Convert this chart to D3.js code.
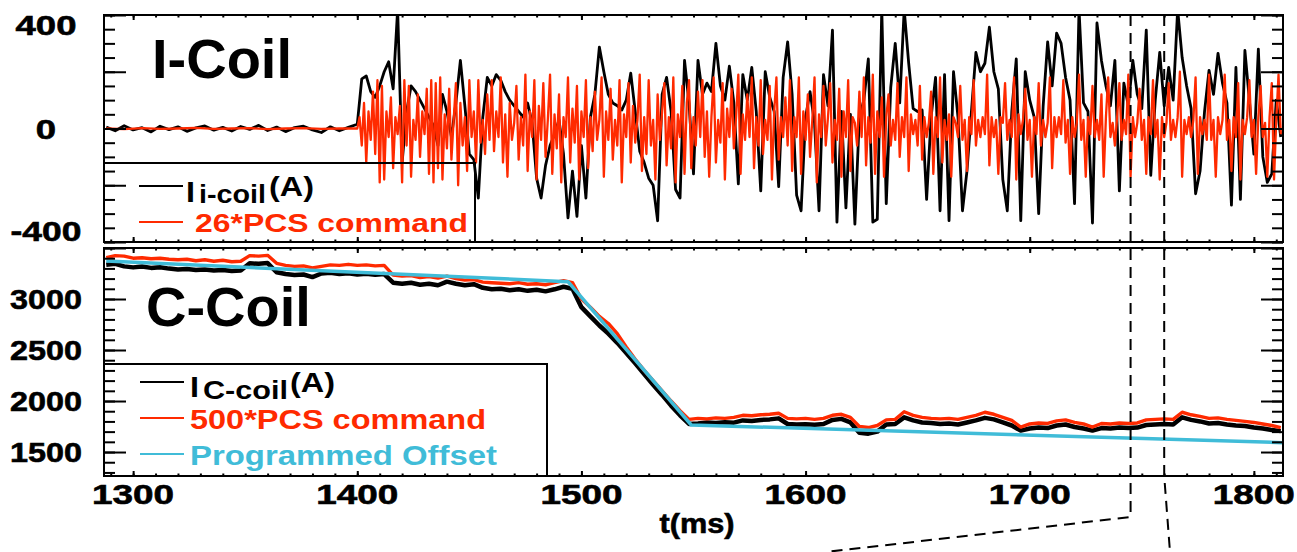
<!DOCTYPE html>
<html>
<head>
<meta charset="utf-8">
<script src="https://cdn.jsdelivr.net/npm/d3@7"></script>
<style>
  body { margin: 0; background: #fff; }
  svg { display: block; }
  text { font-family: "Liberation Sans", Arial, sans-serif; font-weight: bold; }
</style>
</head>
<body>
<svg id="chart" width="1297" height="552"></svg>
<script>
// ---- time axis (ms) ----
const tTicks = [1300, 1400, 1500, 1600, 1700, 1800];
const markerTimes = [1745, 1760];

// ---- I-coil panel (A) ----
const iTicks = [400, 0, -400];
const iCoilPreStart = 1288, iCoilPreStep = 4;
const iCoilPre = [5, -8, 10, -5, 3, -12, 8, -4, 6, -10, 2, 9, -6, 4, -9, 7, -3, 11, -7, 5, -11, 3, 8, -5, -14, 6, -8, 4];
const iCoilStart = 1400, iCoilStep = 2;
const iCoil = [
  15, 175, 185, 130, 110, 150, 200, 235, 140, 420,
  -120, 60, 150, 130, 100, 70, 40, 10, -60, 120,
  60, -30, 90, 240, 80, -90, -110, -245, 40, 180,
  150, 190, 170, 130, 100, 80, 60, 40, 90, 20,
  -175, -245, -130, -60, -20, 30, -90, -315, -150, -310,
  -60, -245, 40, 120, 287, 200, 120, 90, 80, 65,
  100, 195, 60, -80, -120, -175, -200, -325, 120, 180,
  60, -215, -245, 240, 90, -160, 240, 120, 160, 130,
  300, 150, 100, 220, 90, -195, 190, 100, 215, 60,
  -220, 200, 110, 60, -205, 180, 305, 120, -235, -290,
  40, 130, 20, -290, 190, 80, 347, -330, 60, -280,
  50, -337, 40, 100, 245, -330, -320, 420, -265, 145,
  300, 90, 420, 230, 70, 60, 65, -250, 40, 180,
  -290, 190, -325, 200, 40, -290, -150, 60, 268, 200,
  230, 357, 200, 140, -180, -290, 60, 245, -325, 200,
  100, 40, -300, 80, 305, 150, 336, 300, 180, 100,
  -265, 420, 90, 60, -333, 372, 240, 150, 80, 240,
  -220, 160, 80, 240, 120, 70, 347, -165, 100, 268,
  80, 215, 100, 420, 250, 150, 70, -230, -150, 60,
  205, 120, 265, 160, 90, -270, 215, -250, 275, 100,
  -90, 280, -100, -190, -160, 100, -30
];
// 26*PCS command
const iCmdPreStart = 1288, iCmdPreStep = 8;
const iCmdPre = [0, -2, 1, -1, 0, 2, -1, 0, 1, -2, 0, 1, -1, 0];
const iCmdStart = 1400, iCmdStep = 1;
const iCmd = [
  0, 40, -60, 90, -120, 60, -40, 130, -90, 170, -190, 150, -180, 60, -30, 110, -140, 40, -20, 80,
  -190, 170, -60, 150, -170, 30, -40, 120, -100, 60, -20, 140, -160, 170, -190, 160, -140, 180, -180, 50,
  -70, 140, -110, 30, 160, -200, 90, -60, 40, -150, 170, -30, 60, -120, 170, -50, 30, -90, 120, -40,
  170, -80, 60, -30, 180, -120, 50, -170, 90, -40, 20, 150, -110, 40, -60, 190, -150, 60, -30, 170,
  -180, 80, -40, 160, -100, 30, 190, -160, 50, -70, 120, -190, 40, -30, 180, -120, 70, -50, 150, -180,
  60, -30, 170, -140, 40, -80, 130, -40, 30, 180, -170, 60, -40, 140, -110, 30, -60, 170, -190, 50,
  -30, 160, -120, 80, -50, 30, 190, -150, 40, -90, 170, -60, 30, -180, 120, -40, 60, 160, -130, 40,
  -70, 180, -190, 50, -30, 150, -160, 90, 170, -140, 40, -60, 130, -30, 170, -100, 60, -170, 40, 180,
  -120, 30, -50, 160, -180, 70, -30, 140, -70, 40, 190, -160, 50, -40, 120, -30, 180, -140, 40, -60,
  170, -90, 30, -40, 150, -180, 60, 180, -110, 40, -30, 110, -60, 170, -150, 40, -30, 180, -160, 60,
  -40, 120, -100, 30, 180, -190, 50, -30, 150, -60, 40, 160, -120, 30, -40, 140, -170, 60, -30, 170,
  -150, 40, 20, -60, 130, -30, 180, -130, 40, -50, 190, -160, 60, -30, 110, -170, 40, 120, -60, 30,
  -40, 160, -100, 40, -30, 180, -150, 50, -20, 30, -60, 150, -110, 40, -30, 20, 130, -160, 40, -30,
  180, -120, 30, -40, 50, -170, 40, 20, -30, 150, -40, 30, -150, 40, -20, 170, -60, 30, -30, 40,
  -20, 190, -130, 40, -30, 30, -160, 40, 20, 160, -40, 30, -30, 180, -180, 50, -20, 30, 140, -40,
  30, -170, 40, -20, 160, -60, 30, -30, 20, 180, -140, 40, -30, 40, -20, 170, -50, 30, -160, 40,
  -30, 20, 190, -40, 30, -170, 40, -20, 150, -30, 30, -40, 120, -170, 40, 180, -30, 20, -60, 40,
  160, -40, 30, -20, 190, -170, 40, -30, 20, 140, -40, 30, -160, 40, -20, 170, -30, 30, -180, 40,
  -30, 20, 160, -40, 30, -30, 40, 200, -170, 30, -20, 40, -30, 30, 180, -160, 40, -20, 30, -40,
  190, -40, 30, -170, 40, -20, 30, 190, -40, 30, -150, 40, -30, 160, -180, 30, -20, 40, 170, -30,
  30, -160, 40, 150, -30, 20, -170, 40, 160, -180, 30, 190, -20
];

// ---- C-coil panel (A) ----
const cTicks = [3000, 2500, 2000, 1500];
const cStart = 1288, cStep = 4;
const cCoil = [
  3335, 3345, 3320, 3310, 3318, 3305, 3312, 3298, 3290, 3295,
  3285, 3290, 3280, 3285, 3275, 3280, 3350, 3345, 3352, 3262,
  3245, 3235, 3240, 3215, 3250, 3258, 3245, 3252, 3240, 3248,
  3238, 3245, 3160, 3150, 3160, 3140, 3150, 3135, 3170, 3150,
  3135, 3145, 3110, 3095, 3100, 3085, 3095, 3080, 3090, 3075,
  3095, 3120, 3100, 2920, 2830, 2740, 2660, 2570, 2470, 2370,
  2265, 2160, 2060, 1955, 1860, 1775, 1780, 1790, 1785, 1792,
  1788, 1810, 1805, 1815, 1820, 1830, 1775, 1770, 1772, 1768,
  1775, 1815, 1825, 1790, 1690, 1680, 1700, 1770, 1775, 1840,
  1810, 1790, 1785, 1775, 1780, 1770, 1790, 1810, 1835, 1820,
  1790, 1760, 1710, 1730, 1740, 1735, 1760, 1770, 1745, 1730,
  1710, 1735, 1730, 1740, 1735, 1740, 1765, 1770, 1775, 1770,
  1840, 1815, 1800, 1780, 1785, 1770, 1760, 1755, 1740, 1730,
  1715, 1705
];
// 500*PCS command
const cCmd = [
  3405, 3425, 3420, 3400, 3405, 3395, 3400, 3390, 3385, 3390,
  3375, 3385, 3370, 3380, 3365, 3370, 3425, 3420, 3428, 3350,
  3330, 3320, 3325, 3305, 3320, 3335, 3330, 3340, 3330, 3335,
  3325, 3330, 3235, 3225, 3230, 3210, 3220, 3205, 3225, 3200,
  3185, 3190, 3165, 3160, 3155, 3150, 3160, 3145, 3150, 3140,
  3160, 3180, 3160, 3000, 2920, 2830, 2760, 2660, 2530, 2410,
  2300, 2200, 2100, 2000, 1905, 1820, 1830, 1825, 1835, 1830,
  1840, 1860, 1855, 1865, 1870, 1880, 1830, 1825, 1830, 1820,
  1830, 1860, 1870, 1840, 1750, 1740, 1760, 1815, 1820, 1895,
  1860, 1840, 1830, 1825, 1830, 1820, 1840, 1860, 1890, 1870,
  1840, 1810, 1745, 1775, 1785, 1780, 1805, 1815, 1790, 1775,
  1745, 1780, 1775, 1785, 1780, 1785, 1815, 1820, 1825, 1820,
  1890, 1865, 1850, 1830, 1835, 1820, 1810, 1800, 1790, 1775,
  1760, 1740
];
// Programmed offset (breakpoints)
const offsetT = [1288, 1494, 1549, 1813];
const offsetV = [3372, 3170, 1765, 1592];

// ---- layout ----
const svg = d3.select("#chart");
const left = 104, right = 1283;
const topPanel = { top: 15, bottom: 242 };
const botPanel = { top: 248, bottom: 476 };
const red = "#ff2a00", cyan = "#40bcd8";

const x = d3.scaleLinear().domain([1287, 1813]).range([left, right]);
const yI = d3.scaleLinear().domain([-400, 400]).range([topPanel.bottom, topPanel.top]);
const yC = d3.scaleLinear().domain([1265, 3500]).range([botPanel.bottom, botPanel.top]);

const series = (start, step, vals) => vals.map((v, i) => [start + i * step, v]);

const defs = svg.append("defs");
[["clipI", topPanel], ["clipC", botPanel]].forEach(([id, p]) => {
  defs.append("clipPath").attr("id", id)
    .append("rect").attr("x", left).attr("y", p.top)
    .attr("width", right - left).attr("height", p.bottom - p.top);
});

// data lines
const drawLine = (data, y, clip, color, width) => {
  svg.append("path")
    .datum(data)
    .attr("clip-path", `url(#${clip})`)
    .attr("fill", "none")
    .attr("stroke", color)
    .attr("stroke-width", width)
    .attr("stroke-linejoin", "round")
    .attr("d", d3.line().x((d) => x(d[0])).y((d) => y(d[1])));
};

drawLine(series(iCoilPreStart, iCoilPreStep, iCoilPre).concat(series(iCoilStart, iCoilStep, iCoil)), yI, "clipI", "#000", 2.8);
drawLine(series(iCmdPreStart, iCmdPreStep, iCmdPre).concat(series(iCmdStart, iCmdStep, iCmd)), yI, "clipI", red, 2.3);

drawLine(series(cStart, cStep, cCoil), yC, "clipC", "#000", 4.5);
drawLine(series(cStart, cStep, cCmd), yC, "clipC", red, 3.4);
drawLine(offsetT.map((t, i) => [t, offsetV[i]]), yC, "clipC", cyan, 3.5);

// ticks (inward, mirrored on all sides)
const tickGroup = (axisFn, scale, values, size, tx, ty) => {
  svg.append("g")
    .attr("transform", `translate(${tx},${ty})`)
    .call(axisFn(scale).tickValues(values).tickSize(size).tickFormat(""))
    .call((g) => g.select(".domain").remove())
    .call((g) => g.selectAll("line").attr("stroke", "#000").attr("stroke-width", 2));
};

const tMinor = d3.range(1290, 1813, 10);
const tMajor = tTicks;

[[topPanel, yI, d3.range(-400, 401, 50), d3.range(-400, 401, 200)],
 [botPanel, yC, d3.range(1300, 3501, 100), d3.range(1500, 3501, 500)]].forEach(([p, y, minor, major]) => {
  tickGroup(d3.axisBottom, x, tMinor, -2.5, 0, p.bottom);
  tickGroup(d3.axisBottom, x, tMajor, -5, 0, p.bottom);
  tickGroup(d3.axisTop, x, tMinor, -2.5, 0, p.top);
  tickGroup(d3.axisTop, x, tMajor, -5, 0, p.top);
  tickGroup(d3.axisLeft, y, minor, -11, left, 0);
  tickGroup(d3.axisLeft, y, major, -22, left, 0);
  tickGroup(d3.axisRight, y, minor, -11, right, 0);
  tickGroup(d3.axisRight, y, major, -22, right, 0);
  svg.append("rect")
    .attr("x", left).attr("y", p.top)
    .attr("width", right - left).attr("height", p.bottom - p.top)
    .attr("fill", "none").attr("stroke", "#000").attr("stroke-width", 2);
});

// tick labels (IDL style, wide heavy digits)
const label = (txt, cx, baseline, size, len) => {
  svg.append("text")
    .attr("x", cx - len / 2).attr("y", baseline)
    .attr("font-size", size)
    .attr("stroke", "#000").attr("stroke-width", 0.6)
    .attr("textLength", len).attr("lengthAdjust", "spacingAndGlyphs")
    .text(txt);
};
const labelLen = (s, per) => s.replace("-", "").length * per + (s.startsWith("-") ? 10 : 0);

iTicks.forEach((v) => {
  const yy = Math.min(Math.max(yI(v), topPanel.top + 10), topPanel.bottom - 11);
  label(String(v), 46, yy + 10, 28, labelLen(String(v), 20.3));
});
cTicks.forEach((v) => label(String(v), 46, yC(v) + 10, 28, labelLen(String(v), 18)));
tTicks.forEach((t) => label(String(t), x(t), 504, 28, labelLen(String(t), 20.5)));
label("t(ms)", 697, 533, 28, 75);

// panel titles
svg.append("text").attr("x", 152).attr("y", 78).attr("font-size", 56).text("I-Coil");
svg.append("text").attr("x", 146).attr("y", 326).attr("font-size", 56).text("C-Coil");

// legends
const legendBox = (x1, y1, x2, y2) => {
  svg.append("path")
    .attr("d", `M${x1},${y2}V${y1}H${x2}V${y2}`)
    .attr("fill", "none").attr("stroke", "#000").attr("stroke-width", 2);
};
const legendLine = (x1, x2, y, color) => {
  svg.append("line").attr("x1", x1).attr("x2", x2).attr("y1", y).attr("y2", y)
    .attr("stroke", color).attr("stroke-width", 2);
};
const richLabel = (parts, color) => {
  parts.forEach(([txt, px, base, size, len]) => {
    svg.append("text").attr("x", px).attr("y", base).attr("font-size", size)
      .attr("fill", color)
      .attr("textLength", len).attr("lengthAdjust", "spacingAndGlyphs")
      .text(txt);
  });
};

legendBox(left, 163, 475, topPanel.bottom);
legendLine(139, 183, 186, "#000");
richLabel([["I", 186, 202, 30, 9], ["i-coil", 199, 203, 25, 67], ["(A)", 269, 196, 27, 45]], "#000");
legendLine(139, 183, 222, red);
richLabel([["26*PCS command", 195, 232, 26, 273]], red);

legendBox(left, 364, 547, botPanel.bottom);
legendLine(140, 184, 382, "#000");
richLabel([["I", 190, 397, 30, 9], ["C-coil", 203, 399, 25, 85], ["(A)", 290, 392, 27, 45]], "#000");
legendLine(140, 184, 418, red);
richLabel([["500*PCS command", 190, 429, 27, 296]], red);
legendLine(140, 184, 454, cyan);
richLabel([["Programmed Offset", 190, 465, 27, 307]], cyan);

// dashed time markers, running out towards a zoomed view
const m1 = x(markerTimes[0]), m2 = x(markerTimes[1]);
const dash = (d) => svg.append("path").attr("d", d).attr("fill", "none")
  .attr("stroke", "#000").attr("stroke-width", 2).attr("stroke-dasharray", "11,7");
dash(`M${m1},${topPanel.top}V517L826,552`);
dash(`M${m2},${topPanel.top}V${botPanel.bottom}L1170,552`);
</script>
</body>
</html>
